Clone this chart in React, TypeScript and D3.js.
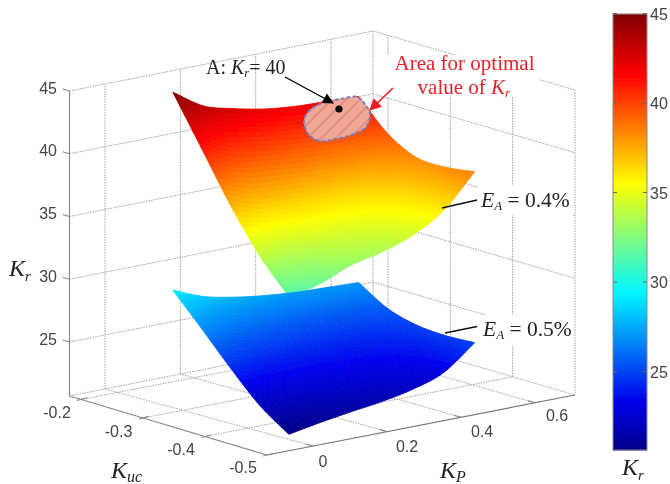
import React from "react";
import * as d3 from "d3";

const zTicks = [25, 30, 35, 40, 45];
const kucTicks = [-0.2, -0.3, -0.4, -0.5];
const kpTicks = [0, 0.2, 0.4, 0.6];
const barTicks = [25, 30, 35, 40, 45];

const kpNodes = [0.04, 0.122, 0.205, 0.287, 0.37, 0.452, 0.535];
const kucNodes = [-0.25, -0.297, -0.344, -0.391, -0.438];

// Kr on each (Kuc row, KP column) node
const krUpper = [
  [45.0, 43.43, 42.73, 42.23, 41.97, 41.88, 41.78],
  [41.17, 40.01, 39.62, 39.33, 39.11, 39.17, 39.51],
  [37.32, 36.58, 36.53, 36.48, 36.63, 37.19, 38.29],
  [34.02, 33.91, 34.41, 34.79, 35.3, 36.34, 38.21],
  [31.45, 32.0, 33.0, 33.58, 34.44, 35.93, 38.54],
];
const krLower = [
  [29.23, 28.25, 27.71, 27.37, 27.15, 27.05, 26.95],
  [26.83, 26.0, 25.55, 25.3, 25.18, 25.28, 25.57],
  [24.37, 23.95, 23.85, 23.85, 23.9, 24.18, 24.94],
  [22.11, 22.1, 22.35, 22.64, 22.9, 23.45, 24.79],
  [20.5, 20.95, 21.33, 21.67, 22.17, 23.02, 24.92],
];

const jetStops = [0, 0.11, 0.36, 0.61, 0.86, 1];
const jetColors = ["#00008a", "#0000ee", "#00f8ff", "#ffff00", "#ff0000", "#800000"];

// Floor corners of the 3-D box
const cLeft: [number, number] = [69.5, 396];
const cFront: [number, number] = [267, 455];
const cRight: [number, number] = [575, 395];
const cBack: [number, number] = [373, 336];
const boxH = 305;

const zMin = 20.7, zMax = 45;
const zY = d3.scaleLinear().domain([zMin, zMax]).range([0, -boxH]);
const fKp = d3.scaleLinear().domain([-0.12, 0.7]).range([0, 1]);
const fKuc = d3.scaleLinear().domain([-0.18, -0.5]).range([0, 1]);
const kpFront = d3.scaleLinear().domain([0, 0.6]).range([313, 535]);
const kpBack = d3.scaleLinear().domain([0, 0.6]).range([105, 331]);
const kucLeft = d3.scaleLinear().domain([-0.2, -0.5]).range([81, 267]);
const kucRight = d3.scaleLinear().domain([-0.2, -0.5]).range([388, 575]);
const jetT = d3.scaleLinear().domain([zMin, zMax]).range([0, 1]);
const jetRamp = d3.scaleLinear<string>().domain(jetStops).range(jetColors).clamp(true);
const jet = (z: number) => jetRamp(jetT(z));
const barY = d3.scaleLinear().domain([45, 20.62]).range([13.5, 450]);

const proj = (kp: number, kuc: number, z: number): [number, number] => {
  const u = fKp(kp), v = fKuc(kuc);
  return [
    cLeft[0] + u * (cRight[0] - cFront[0]) + v * (cFront[0] - cLeft[0]),
    cLeft[1] + u * (cRight[1] - cFront[1]) + v * (cFront[1] - cLeft[1]) + zY(z),
  ];
};
const onEdge = (a: [number, number], b: [number, number], x: number): [number, number] => [
  x,
  a[1] + ((x - a[0]) / (b[0] - a[0])) * (b[1] - a[1]),
];

const cr = (p0: number, p1: number, p2: number, p3: number, t: number) =>
  0.5 * (2 * p1 + (p2 - p0) * t + (2 * p0 - 5 * p1 + 4 * p2 - p3) * t * t + (3 * p1 - p0 - 3 * p2 + p3) * t * t * t);

function sample(grid: number[][], r: number, c: number) {
  const R = grid.length - 1, C = grid[0].length - 1;
  const ri = Math.min(Math.floor(r), R - 1), ci = Math.min(Math.floor(c), C - 1);
  const tr = r - ri, tc = c - ci;
  const at = (a: number, b: number) => {
    const ra = Math.max(0, Math.min(R, a)), ca = Math.max(0, Math.min(C, b));
    let v = grid[ra][ca];
    if (a < 0) v = 2 * grid[0][ca] - grid[1][ca];
    if (a > R) v = 2 * grid[R][ca] - grid[R - 1][ca];
    if (b < 0) v += grid[ra][0] - grid[ra][1];
    if (b > C) v += grid[ra][C] - grid[ra][C - 1];
    return v;
  };
  const rows = [-1, 0, 1, 2].map((d) =>
    cr(at(ri + d, ci - 1), at(ri + d, ci), at(ri + d, ci + 1), at(ri + d, ci + 2), tc)
  );
  return cr(rows[0], rows[1], rows[2], rows[3], tr);
}

function Surface({ grid }: { grid: number[][] }) {
  const sub = 10;
  const nc = (kpNodes.length - 1) * sub, nr = (kucNodes.length - 1) * sub;
  const kpAt = d3.scaleLinear().domain(kpNodes.map((_, i) => i * sub)).range(kpNodes);
  const kucAt = d3.scaleLinear().domain(kucNodes.map((_, i) => i * sub)).range(kucNodes);
  const pt = (r: number, c: number) => {
    const z = sample(grid, r / sub, c / sub);
    return { p: proj(kpAt(c), kucAt(r), z), z };
  };
  const cells: React.ReactElement[] = [];
  for (let r = 0; r < nr; r++) {
    for (let c = 0; c < nc; c++) {
      const a = pt(r, c), b = pt(r, c + 1), d = pt(r + 1, c + 1), e = pt(r + 1, c);
      const col = jet((a.z + b.z + d.z + e.z) / 4);
      const path = `M${a.p}L${b.p}L${d.p}L${e.p}Z`;
      cells.push(<path key={r + "-" + c} d={path} fill={col} stroke={col} strokeWidth={0.8} />);
    }
  }
  return <g>{cells}</g>;
}

const gridStyle = { stroke: "#a6a6a6", strokeWidth: 1, strokeDasharray: "1.6 1", fill: "none" };
const solid = { stroke: "#8a8a8a", strokeWidth: 1.2, fill: "none" };
const sans = "'Liberation Sans', Arial, sans-serif";
const serif = "'Liberation Serif', 'Times New Roman', serif";
const tickFill = "#444";

const seg = (a: [number, number], b: [number, number]) => `M${a}L${b}`;

const patchPts: [number, number][] = [
  [304, 122], [308, 112], [320, 104], [340, 99], [357, 97], [364, 103], [370, 114],
  [366, 127], [354, 134], [335, 139], [320, 141], [309, 135],
];
const patchPath = d3.line().curve(d3.curveCatmullRomClosed.alpha(0.5))(patchPts) as string;

function Kr({ x, y, size, fill }: { x: number; y: number; size: number; fill?: string }) {
  return (
    <text x={x} y={y} fontFamily={serif} fontSize={size} fontStyle="italic" fill={fill ?? "#222"}>
      K<tspan fontSize={size * 0.62} dy={size * 0.2}>r</tspan>
    </text>
  );
}

export default function App() {
  const zAt = (p: [number, number], z: number): [number, number] => [p[0], p[1] + zY(z)];
  const wallLeftZ = zTicks.map((z) => (
    <path key={z} d={seg(zAt(cLeft, z), zAt(cBack, z))} {...gridStyle} />
  ));
  const wallRightZ = zTicks.map((z) => (
    <path key={z} d={seg(zAt(cBack, z), zAt(cRight, z))} {...gridStyle} />
  ));
  const kpGrid = kpTicks.map((k) => {
    const f = onEdge(cFront, cRight, kpFront(k));
    const b = onEdge(cLeft, cBack, kpBack(k));
    return (
      <g key={k}>
        <path d={seg(f, b)} {...gridStyle} />
        <path d={seg(b, [b[0], b[1] - boxH])} {...gridStyle} />
      </g>
    );
  });
  const kucGrid = kucTicks.slice(0, 3).map((k) => {
    const l = onEdge(cLeft, cFront, kucLeft(k));
    const r = onEdge(cBack, cRight, kucRight(k));
    return (
      <g key={k}>
        <path d={seg(l, r)} {...gridStyle} />
        <path d={seg(r, [r[0], r[1] - boxH])} {...gridStyle} />
      </g>
    );
  });
  const bar = d3.range(14, 450, 1).map((y) => (
    <rect key={y} x={613} y={y} width={34} height={1.5} fill={jet(barY.invert(y))} />
  ));
  const kucLabelPos: [number, number][] = [[57, 418], [118.5, 437], [181, 455], [243, 473]];
  const kpLabelPos: [number, number][] = [[323, 466.5], [407, 452], [482, 437], [557, 421]];
  const zLabelDy = 2.5;

  return (
    <svg width={670} height={484} viewBox="0 0 670 484" style={{ position: "absolute", left: 0, top: 0, display: "block", background: "#fff" }}>
      <defs>
        <filter id="soft" x="0" y="0" width="670" height="484" filterUnits="userSpaceOnUse" primitiveUnits="userSpaceOnUse">
          <feGaussianBlur stdDeviation="0.5" />
        </filter>
        <pattern id="hatch" width="10" height="10" patternUnits="userSpaceOnUse" patternTransform="rotate(-45)">
          <rect width="10" height="10" fill="#f3a796" />
          <line x1="0" y1="5" x2="10" y2="5" stroke="#c97a6d" strokeWidth="1" />
        </pattern>
        <marker id="ab" viewBox="0 0 10 10" refX="9" refY="5" markerWidth="14" markerHeight="11" markerUnits="userSpaceOnUse" orient="auto">
          <path d="M0,0L10,5L0,10Z" fill="#000" />
        </marker>
        <marker id="ar" viewBox="0 0 10 10" refX="9" refY="5" markerWidth="13" markerHeight="12" markerUnits="userSpaceOnUse" orient="auto">
          <path d="M0,0L10,5L0,10Z" fill="#ee1c25" />
        </marker>
      </defs>
      <g filter="url(#soft)">
        {wallLeftZ}
        {wallRightZ}
        {kpGrid}
        {kucGrid}
        <path d={seg(zAt(cRight, zMax), cRight)} {...gridStyle} />
        <path d={seg(cBack, zAt(cBack, zMax))} {...gridStyle} />
        <path d={seg(cLeft, cBack)} {...gridStyle} />
        <path d={seg(cBack, cRight)} {...gridStyle} />

        <path d={seg(zAt(cLeft, zMax), cLeft)} {...solid} />
        <path d={seg(cLeft, cFront)} {...solid} />
        <path d={seg(cFront, cRight)} {...solid} stroke="#777" />
        {zTicks.map((z) => {
          const p = zAt(cLeft, z);
          return <path key={z} d={seg(p, [p[0] - 7, p[1] - 2])} {...solid} />;
        })}
        {kucTicks.map((k) => {
          const p = onEdge(cLeft, cFront, kucLeft(k));
          return <path key={k} d={seg([p[0] - 4, p[1] + 1], [p[0] + 6, p[1] - 1.5])} {...solid} />;
        })}
        {kpTicks.map((k) => {
          const p = onEdge(cFront, cRight, kpFront(k));
          return <path key={k} d={seg(p, [p[0] - 7, p[1] - 2])} {...solid} />;
        })}

        <Surface grid={krUpper} />
        <Surface grid={krLower} />

        <path d={patchPath} fill="url(#hatch)" stroke="#6d80c4" strokeWidth={2} strokeDasharray="3.5 2.5" />
        <circle cx={339} cy={109} r={3.6} fill="#000" />

        <rect x={386} y={55} width={154} height={42} fill="#fff" />
        <rect x={478} y={186} width={95} height={29} fill="#fff" />
        <rect x={478} y={315} width={96} height={30} fill="#fff" />

        <line x1={285} y1={77} x2={333} y2={103} stroke="#000" strokeWidth={1.4} markerEnd="url(#ab)" />
        <line x1={393} y1={88} x2={370} y2={110} stroke="#ee1c25" strokeWidth={1.6} markerEnd="url(#ar)" />
        <line x1={442} y1={208} x2={477} y2={200} stroke="#111" strokeWidth={1.3} />
        <line x1={445} y1={333} x2={477} y2={326.5} stroke="#111" strokeWidth={1.3} />

        {zTicks.map((z) => (
          <text key={z} x={57} y={zAt(cLeft, z)[1] + zLabelDy} textAnchor="end" fontFamily={sans} fontSize={16} fill={tickFill}>
            {z}
          </text>
        ))}
        {kucTicks.map((k, i) => (
          <text key={k} x={kucLabelPos[i][0]} y={kucLabelPos[i][1]} textAnchor="middle" fontFamily={sans} fontSize={16} fill={tickFill}>
            {k.toFixed(1)}
          </text>
        ))}
        {kpTicks.map((k, i) => (
          <text key={k} x={kpLabelPos[i][0]} y={kpLabelPos[i][1]} textAnchor="middle" fontFamily={sans} fontSize={16} fill={tickFill}>
            {k === 0 ? "0" : k.toFixed(1)}
          </text>
        ))}

        <Kr x={9} y={276} size={24} />
        <text x={111} y={478} fontFamily={serif} fontSize={24} fontStyle="italic" fill="#222">
          K<tspan fontSize={16} dy={4}>uc</tspan>
        </text>
        <text x={440} y={478} fontFamily={serif} fontSize={24} fontStyle="italic" fill="#222">
          K<tspan fontSize={16} dy={4}>P</tspan>
        </text>
        <Kr x={622} y={475} size={24} />

        <text x={206} y={74} fontFamily={serif} fontSize={20} fill="#222">
          A: <tspan fontStyle="italic">K</tspan>
          <tspan fontStyle="italic" fontSize={12.5} dy={3}>r</tspan>
          <tspan dy={-3}>= 40</tspan>
        </text>
        <text x={464.5} y={70} textAnchor="middle" fontFamily={serif} fontSize={21} fill="#e8202c">
          Area for optimal
        </text>
        <text x={464} y={94} textAnchor="middle" fontFamily={serif} fontSize={21} fill="#e8202c">
          value of <tspan fontStyle="italic">K</tspan>
          <tspan fontStyle="italic" fontSize={13.5} dy={3}>r</tspan>
        </text>
        <text x={481} y={207} fontFamily={serif} fontSize={21.5} fill="#222">
          <tspan fontStyle="italic">E</tspan>
          <tspan fontStyle="italic" fontSize={13} dy={3}>A</tspan>
          <tspan dy={-3}> = 0.4%</tspan>
        </text>
        <text x={483} y={336} fontFamily={serif} fontSize={21.5} fill="#222">
          <tspan fontStyle="italic">E</tspan>
          <tspan fontStyle="italic" fontSize={13} dy={3}>A</tspan>
          <tspan dy={-3}> = 0.5%</tspan>
        </text>

        {bar}
        <rect x={613} y={14} width={34} height={436} fill="none" stroke="#8a8a8a" strokeWidth={1} />
        {barTicks.map((z) => (
          <g key={z}>
            <path d={seg([613, barY(z)], [617, barY(z)])} stroke="#666" strokeWidth={1} />
            <path d={seg([643, barY(z)], [647, barY(z)])} stroke="#666" strokeWidth={1} />
            <text x={650} y={barY(z) + 6} fontFamily={sans} fontSize={16} fill={tickFill}>
              {z}
            </text>
          </g>
        ))}
      </g>
    </svg>
  );
}
